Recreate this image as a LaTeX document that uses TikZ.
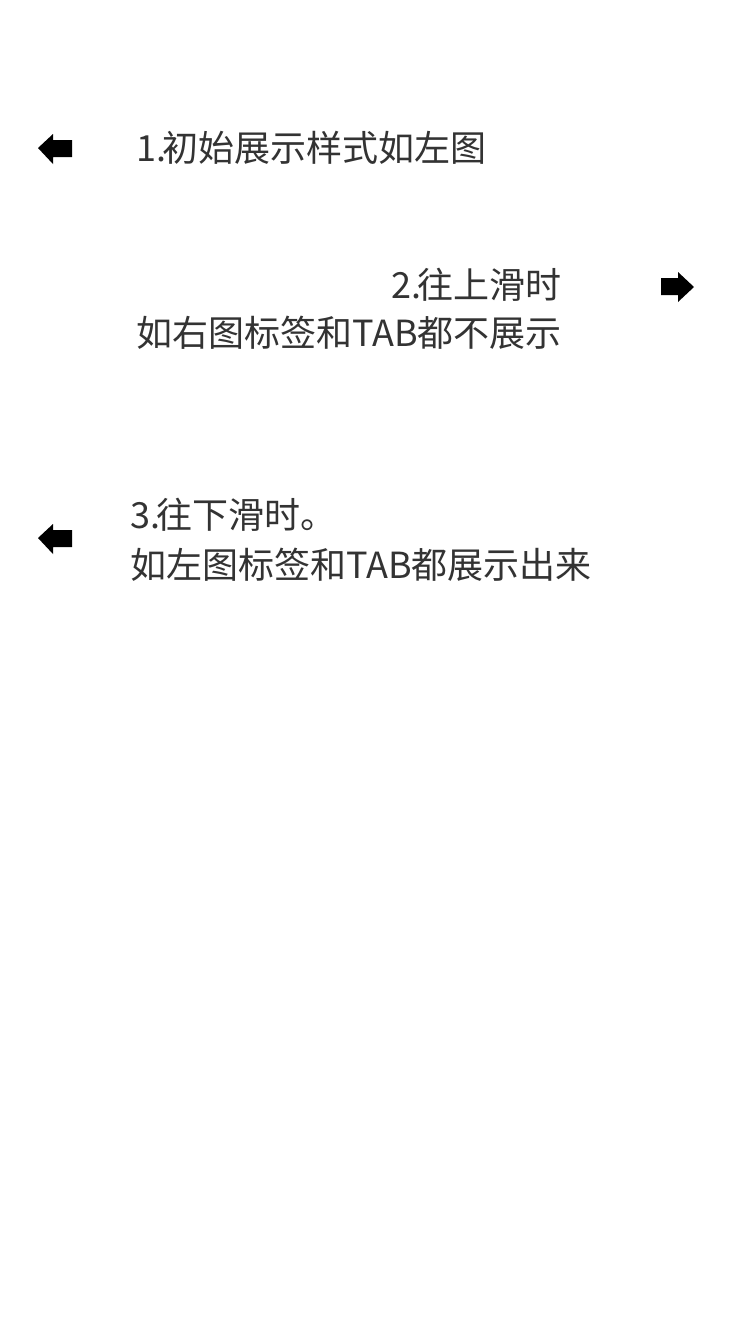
\documentclass[tikz,border=0pt]{standalone}
\usepackage{fontspec}
\setmainfont{Noto Sans CJK SC}
\usepackage{tikz}

\begin{document}
\begin{tikzpicture}[x=1pt,y=-1pt] % one unit is one pixel of the reference
	% Page frame
	\useasboundingbox[fill=white] (0,0) rectangle (750,1334);
	
	% Styles for the notes and the arrow marks
	\tikzset{
		note/.style={text=black!80, font=\fontsize{36}{44}\selectfont, inner sep=0pt},
		arrowmark/.style={fill=black}
	}
	
	% Left arrow, first note
	\fill[arrowmark] (38,148) -- (53,134) -- (53,140) -- (72,140) -- (72,157) -- (53,157) -- (53,164) -- cycle;
	\node[note, anchor=base west] (first) at (136,161) {1.\kern-4pt初始展示样式如左图};
	
	% Right arrow, second note
	\fill[arrowmark] (694,287) -- (678,272) -- (678,278) -- (661,278) -- (661,295) -- (678,295) -- (678,302) -- cycle;
	\node[note, anchor=base east] (secondtop) at (562,298) {2.\kern-4pt往上滑时};
	\node[note, anchor=base east] (secondbot) at (562,346) {如右图标签和TAB都不展示};
	
	% Left arrow, third note
	\fill[arrowmark] (38,538) -- (53,524) -- (53,530) -- (72,530) -- (72,547) -- (53,547) -- (53,554) -- cycle;
	\node[note, anchor=base west] (thirdtop) at (130,528) {3.\kern-4pt往下滑时。};
	\node[note, anchor=base west] (thirdbot) at (130,578) {如左图标签和TAB都展示出来};
\end{tikzpicture}
\end{document}
